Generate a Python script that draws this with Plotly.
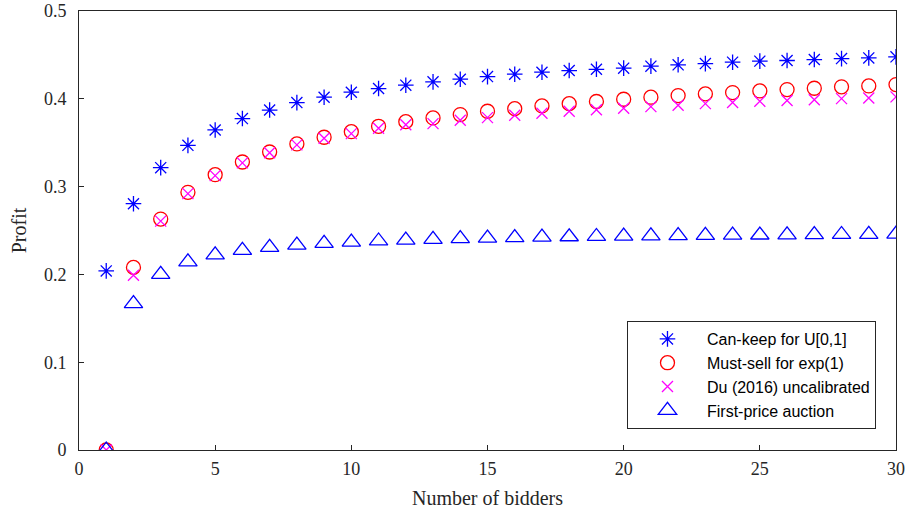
import plotly.graph_objects as go

n_bidders = list(range(1, 31))

can_keep = [0.204, 0.2805, 0.3216, 0.347, 0.3645, 0.3775, 0.3872, 0.3957, 0.4018, 0.4075,
            0.4117, 0.4155, 0.4193, 0.4223, 0.4253, 0.428, 0.4303, 0.4322, 0.4336, 0.4349,
            0.4372, 0.4387, 0.4401, 0.4417, 0.4429, 0.4436, 0.4447, 0.4458, 0.4466, 0.4478]

must_sell = [0.0, 0.208, 0.263, 0.2935, 0.3136, 0.328, 0.3394, 0.3486, 0.3562, 0.3626,
             0.3687, 0.374, 0.3782, 0.382, 0.3858, 0.3888, 0.3919, 0.3945, 0.3969, 0.3995,
             0.4018, 0.4037, 0.4056, 0.4071, 0.409, 0.4105, 0.412, 0.4136, 0.4147, 0.4162]

du_2016 = [0.0, 0.199, 0.2607, 0.292, 0.3125, 0.327, 0.3385, 0.3475, 0.355, 0.3603,
           0.3665, 0.3705, 0.3717, 0.3756, 0.3786, 0.3813, 0.3836, 0.3858, 0.3875, 0.3893,
           0.3911, 0.3927, 0.3945, 0.3957, 0.3972, 0.398, 0.399, 0.4002, 0.401, 0.4022]

first_price = [0.0, 0.1667, 0.2, 0.2143, 0.2222, 0.2273, 0.2308, 0.2333, 0.2353, 0.2368,
               0.2381, 0.2391, 0.24, 0.2407, 0.2414, 0.2419, 0.2424, 0.2429, 0.2432, 0.2436,
               0.2439, 0.2442, 0.2444, 0.2447, 0.2449, 0.2451, 0.2453, 0.2455, 0.2456, 0.2458]

series_names = ["Can-keep for U[0,1]", "Must-sell for exp(1)",
                "Du (2016) uncalibrated", "First-price auction"]

x_ticks = [0, 5, 10, 15, 20, 25, 30]
y_ticks = [0, 0.1, 0.2, 0.3, 0.4, 0.5]
y_tick_labels = ["0", "0.1", "0.2", "0.3", "0.4", "0.5"]

fig = go.Figure()
fig.add_trace(go.Scatter(x=n_bidders, y=can_keep, mode="markers", name=series_names[0],
                         marker=dict(symbol="asterisk-open", size=13, color="rgb(0,0,255)",
                                     line=dict(color="rgb(0,0,255)", width=1.3))))
fig.add_trace(go.Scatter(x=n_bidders, y=must_sell, mode="markers", name=series_names[1],
                         marker=dict(symbol="circle-open", size=14, color="rgb(255,0,0)",
                                     line=dict(color="rgb(255,0,0)", width=1.3))))
fig.add_trace(go.Scatter(x=n_bidders, y=du_2016, mode="markers", name=series_names[2],
                         marker=dict(symbol="x-thin-open", size=11, color="rgb(255,0,255)",
                                     line=dict(color="rgb(255,0,255)", width=1.3))))
fig.add_trace(go.Scatter(x=n_bidders, y=first_price, mode="markers", name=series_names[3],
                         marker=dict(symbol="triangle-up-open", size=16, color="rgb(0,0,255)",
                                     line=dict(color="rgb(0,0,255)", width=1.3))))

axis_common = dict(showgrid=False, zeroline=False, showline=True, mirror=True,
                   linecolor="#262626", linewidth=1, ticks="inside", ticklen=5,
                   tickcolor="#262626", automargin=False, ticklabeloverflow="allow",
                   tickfont=dict(family="Liberation Serif", size=18, color="#262626"))

fig.update_xaxes(range=[0, 30], tickvals=x_ticks, ticklabelstandoff=2,
                 title=dict(text="Number of bidders", standoff=13,
                            font=dict(family="Liberation Serif", size=20, color="#262626")),
                 **axis_common)
fig.update_yaxes(range=[0, 0.5], tickvals=y_ticks, ticktext=y_tick_labels,
                 ticklabelstandoff=8,
                 title=dict(text="Profit", standoff=11,
                            font=dict(family="Liberation Serif", size=20, color="#262626")),
                 **axis_common)

fig.update_layout(
    width=908, height=512,
    margin=dict(l=79, r=12, t=11, b=62),
    paper_bgcolor="white", plot_bgcolor="white",
    showlegend=True,
    legend=dict(x=0.9755, y=0.0478, xanchor="right", yanchor="bottom",
                bgcolor="white", bordercolor="#262626", borderwidth=1,
                font=dict(family="Liberation Sans", size=16, color="black"),
                itemwidth=69, tracegroupgap=0),
)

# remove the default page-body margin so the 908x512 figure fills the window exactly
fig.write_html("out.html", config={"displayModeBar": False},
               post_script="document.body.style.margin='0';")
